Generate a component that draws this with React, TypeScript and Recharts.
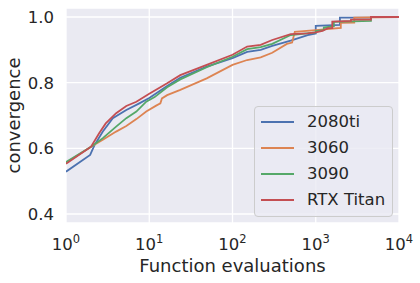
import React from 'react';
import { LineChart, Line, XAxis, YAxis, CartesianGrid, Legend } from 'recharts';

const SERIES_NAMES = ['2080ti', '3060', '3090', 'RTX Titan'];
const COLORS = ['#4c72b0', '#dd8452', '#55a868', '#c44e52'];

const X_TICKS = [1, 10, 100, 1000, 10000];
const X_TICK_EXP = ['0', '1', '2', '3', '4'];
const Y_TICKS = [0.4, 0.6, 0.8, 1.0];

const X_2080 = [1, 1.95, 2.2, 2.77, 3.65, 5.3, 7.6, 10, 16.4, 23.6, 49, 100, 150, 218, 300, 500, 800, 1000, 1000, 1950, 1950, 4600, 4600, 10000];
const Y_2080 = [0.529, 0.58, 0.61, 0.651, 0.692, 0.717, 0.737, 0.753, 0.79, 0.815, 0.849, 0.875, 0.894, 0.9, 0.912, 0.928, 0.945, 0.95, 0.973, 0.976, 0.998, 0.998, 1.0, 1.0];

const X_3060 = [1, 2, 2.77, 4, 5.3, 7, 9.2, 12.1, 13.6, 14.2, 16.4, 23.6, 49, 100, 150, 218, 300, 450, 520, 560, 1000, 2000, 2000, 2900, 2900, 10000];
const Y_3060 = [0.556, 0.605, 0.626, 0.651, 0.668, 0.689, 0.712, 0.73, 0.737, 0.752, 0.762, 0.778, 0.813, 0.854, 0.869, 0.877, 0.891, 0.918, 0.922, 0.955, 0.96, 0.967, 0.982, 0.983, 0.998, 1.0];

const X_3090 = [1, 2, 2.77, 4, 5.3, 7, 9.2, 11.6, 16.4, 23.6, 49, 100, 150, 218, 300, 500, 1000, 1000, 1250, 1250, 1650, 1650, 4600, 4600, 10000];
const Y_3090 = [0.558, 0.605, 0.631, 0.666, 0.692, 0.712, 0.742, 0.756, 0.786, 0.81, 0.847, 0.879, 0.902, 0.908, 0.918, 0.945, 0.953, 0.957, 0.96, 0.968, 0.972, 0.985, 0.988, 1.0, 1.0];

const X_RTX = [1, 2, 2.5, 3, 4, 5.3, 7, 10, 16.4, 23.6, 49, 100, 150, 218, 300, 500, 800, 1000, 1200, 1400, 1580, 1580, 2650, 2650, 4600, 4600, 10000];
const Y_RTX = [0.553, 0.605, 0.646, 0.676, 0.707, 0.729, 0.742, 0.766, 0.798, 0.823, 0.854, 0.885, 0.91, 0.915, 0.93, 0.948, 0.95, 0.953, 0.958, 0.966, 0.966, 0.986, 0.988, 0.992, 0.992, 1.0, 1.0];

const zip = (xs: number[], ys: number[]) => xs.map((x, i) => ({ x, y: ys[i] }));

const SERIES_DATA = [zip(X_2080, Y_2080), zip(X_3060, Y_3060), zip(X_3090, Y_3090), zip(X_RTX, Y_RTX)];

const FONT = '"DejaVu Sans", sans-serif';
const TEXT_COLOR = '#262626';

const XTick = (props: any) => {
  const { x, y, payload } = props;
  const idx = X_TICKS.indexOf(payload.value);
  return (
    <text x={x} y={y + 27} textAnchor="middle" fontFamily={FONT} fontSize={16.5} fill={TEXT_COLOR}>
      10
      <tspan fontSize={11.5} dy={-7}>{X_TICK_EXP[idx]}</tspan>
    </text>
  );
};

const YTick = (props: any) => {
  const { x, y, payload } = props;
  return (
    <text x={x - 12} y={y + 6} textAnchor="end" fontFamily={FONT} fontSize={16.5} fill={TEXT_COLOR}>
      {payload.value.toFixed(1)}
    </text>
  );
};

const LegendContent = () => (
  <div
    style={{
      position: 'relative',
      width: 139,
      height: 111,
      boxSizing: 'border-box',
      border: '1px solid #cccccc',
      borderRadius: 4,
      background: 'rgba(234,234,242,0.8)',
      fontFamily: FONT,
      fontSize: 16.5,
      color: TEXT_COLOR,
    }}
  >
    {SERIES_NAMES.map((name, i) => (
      <div key={name} style={{ position: 'absolute', left: 0, top: 2 + i * 25.9, height: 26, width: 139 }}>
        <div style={{ position: 'absolute', left: 6, top: 12, width: 33, height: 2, background: COLORS[i] }} />
        <div style={{ position: 'absolute', left: 52, top: 2, lineHeight: '22px', whiteSpace: 'nowrap' }}>{name}</div>
      </div>
    ))}
  </div>
);

export default function App() {
  return (
    <div style={{ position: 'absolute', left: 0, top: 0, width: 420, height: 283, background: '#ffffff' }}>
      <LineChart width={420} height={283} margin={{ top: 8, right: 21, bottom: 0, left: 0 }}>
        <CartesianGrid fill="#eaeaf2" stroke="#ffffff" strokeWidth={1.3} />
        <XAxis
          dataKey="x"
          type="number"
          scale="log"
          domain={[1, 10000]}
          ticks={X_TICKS}
          allowDataOverflow
          axisLine={false}
          tickLine={false}
          tickSize={0}
          tickMargin={0}
          height={60}
          tick={<XTick />}
          interval={0}
          label={(p: any) => (
            <text x={232.5} y={271.5} textAnchor="middle" fontFamily={FONT} fontSize={18} fill={TEXT_COLOR}>
              Function evaluations
            </text>
          )}
        />
        <YAxis
          type="number"
          domain={[0.3726, 1.0274]}
          ticks={Y_TICKS}
          allowDataOverflow
          axisLine={false}
          tickLine={false}
          tickSize={0}
          tickMargin={0}
          width={66}
          tick={<YTick />}
          interval={0}
          label={(p: any) => (
            <text
              x={20}
              y={115.5}
              transform="rotate(-90, 20, 115.5)"
              textAnchor="middle"
              fontFamily={FONT}
              fontSize={18}
              fill={TEXT_COLOR}
            >
              convergence
            </text>
          )}
        />
        {SERIES_DATA.map((d, i) => (
          <Line
            key={SERIES_NAMES[i]}
            data={d}
            dataKey="y"
            name={SERIES_NAMES[i]}
            type="linear"
            stroke={COLORS[i]}
            strokeWidth={1.8}
            dot={false}
            activeDot={false}
            isAnimationActive={false}
          />
        ))}
        <Legend
          layout="vertical"
          verticalAlign="middle"
          align="center"
          content={<LegendContent />}
          wrapperStyle={{ left: 254, top: 106, width: 139, height: 111 }}
        />
      </LineChart>
    </div>
  );
}
